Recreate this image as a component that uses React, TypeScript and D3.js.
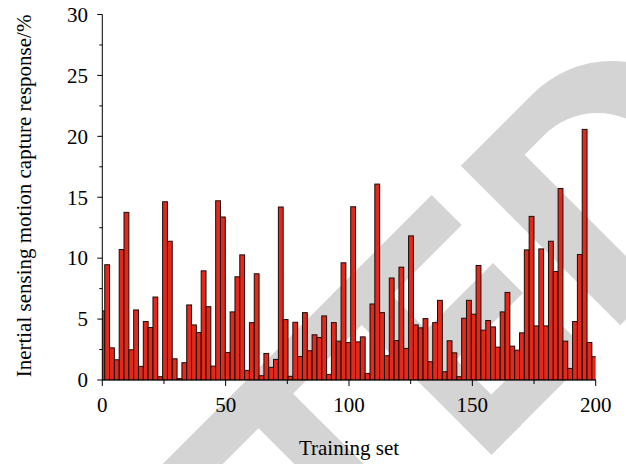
import React from 'react';
import * as d3 from 'd3';

const W = 626;
const H = 464;

const xMajorTicks = [0, 50, 100, 150, 200];
const xMinorTicks = [25, 75, 125, 175];
const yMajorTicks = [0, 5, 10, 15, 20, 25, 30];
const yMinorTicks = [2.5, 7.5, 12.5, 17.5, 22.5, 27.5];

const xLabel = 'Training set';
const yLabel = 'Inertial sensing motion capture response/%';

// response values, one bar per training sample
const responses = [
  5.67, 9.46, 2.64, 1.66, 10.71, 13.76, 2.48, 5.75, 1.12, 4.8,
  4.31, 6.81, 0.27, 14.63, 11.39, 1.74, 0.11, 1.42, 6.16, 4.52,
  3.9, 8.96, 6.02, 1.14, 14.71, 13.38, 2.26, 5.59, 8.47, 10.27,
  0.79, 4.71, 8.72, 0.35, 2.18, 1.04, 1.69, 14.2, 4.96, 0.3,
  4.74, 1.93, 5.53, 2.4, 3.71, 3.49, 5.26, 0.46, 4.71, 3.19,
  9.62, 3.08, 14.22, 3.13, 3.54, 0.54, 6.24, 16.08, 5.53, 1.99,
  8.37, 3.24, 9.26, 2.59, 11.83, 4.52, 4.28, 5.04, 1.5, 4.71,
  6.54, 0.68, 3.22, 2.23, 0.27, 5.07, 6.54, 5.4, 9.4, 4.09,
  4.88, 4.36, 2.7, 5.59, 7.19, 2.78, 2.45, 3.87, 10.68, 13.43,
  4.44, 10.76, 4.44, 11.39, 8.91, 15.72, 3.19, 0.95, 4.8, 10.3,
  20.57, 3.08, 1.91,
];

const FONT = "'Liberation Serif', 'Times New Roman', serif";
const FS = 21;

export default function App() {
  const x = d3.scaleLinear().domain([0, 200]).range([102.3, 595.7]);
  const y = d3.scaleLinear().domain([0, 30]).range([380, 14.5]);
  const band = d3
    .scaleBand<number>()
    .domain(responses.map((_, i) => i))
    .range([x(-0.97), x(200.4)])
    .padding(0);

  const x0 = x(0);
  const x1 = x(200);
  const y0 = y(0);
  const yTop = y(30);

  // decorative watermark in a frame rotated by -45 degrees
  const wm = '#d4d4d4';

  return (
    <svg
      width={W}
      height={H}
      viewBox={`0 0 ${W} ${H}`}
      style={{ position: 'absolute', left: 0, top: 0, background: '#fff' }}
      fontFamily={FONT}
    >
      <defs>
        <clipPath id="plotClip">
          <rect x={x0} y={0} width={x1 - x0} height={y0 + 0.5} />
        </clipPath>
      </defs>
      <rect x={0} y={0} width={W} height={H} fill="#fff" />

      <g transform="rotate(-45)" fill={wm}>
        {/* T crossbar + E top arm */}
        <rect x={-260} y={443.1} width={427.4} height={42.5} />
        {/* T stem */}
        <rect x={-120} y={485} width={49} height={260} />
        {/* E stem */}
        <rect x={26} y={443.1} width={42.4} height={226} />
        {/* E middle arm */}
        <rect x={26} y={534.6} width={136.6} height={42.4} />
        {/* E bottom arm */}
        <rect x={26} y={626.5} width={141.4} height={42.5} />
        {/* D */}
        <path
          fillRule="evenodd"
          d="M208.6,443.1 H310.3 A112.7,112.7 0 0 1 310.3,668.5 H208.6 Z M261.6,480.3 H289.2 A75.5,75.5 0 0 1 289.2,631.3 H261.6 Z"
        />
      </g>

      <g clipPath="url(#plotClip)">
        {responses.map((v, i) => (
          <rect
            key={i}
            x={band(i)}
            y={y(v)}
            width={band.bandwidth()}
            height={y(0) - y(v)}
            fill="#e2291c"
            stroke="#1c0c08"
            strokeWidth={1}
          />
        ))}
      </g>

      {/* y axis */}
      <line x1={x0} x2={x0} y1={y0} y2={yTop} stroke="#000" strokeWidth={1} />
      {yMajorTicks.map((t) => (
        <g key={'ym' + t}>
          <line x1={x0 - 5} x2={x0} y1={y(t)} y2={y(t)} stroke="#000" strokeWidth={1} />
          <text x={88} y={y(t) + 7.3} textAnchor="end" fontSize={FS} fill="#000">
            {t}
          </text>
        </g>
      ))}
      {yMinorTicks.map((t) => (
        <line key={'yn' + t} x1={x0 - 3} x2={x0} y1={y(t)} y2={y(t)} stroke="#000" strokeWidth={1} />
      ))}

      {/* x axis */}
      <line x1={x0} x2={x1} y1={y0} y2={y0} stroke="#000" strokeWidth={1} />
      {xMajorTicks.map((t) => (
        <g key={'xm' + t}>
          <line x1={x(t)} x2={x(t)} y1={y0} y2={y0 + 6} stroke="#000" strokeWidth={1} />
          <text x={x(t)} y={412} textAnchor="middle" fontSize={FS} fill="#000">
            {t}
          </text>
        </g>
      ))}
      {xMinorTicks.map((t) => (
        <line key={'xn' + t} x1={x(t)} x2={x(t)} y1={y0} y2={y0 + 4} stroke="#000" strokeWidth={1} />
      ))}

      <text x={349} y={455} textAnchor="middle" fontSize={FS} fill="#000">
        {xLabel}
      </text>
      <text
        transform={`translate(31, 196) rotate(-90)`}
        textAnchor="middle"
        fontSize={FS}
        fill="#000"
      >
        {yLabel}
      </text>
    </svg>
  );
}
